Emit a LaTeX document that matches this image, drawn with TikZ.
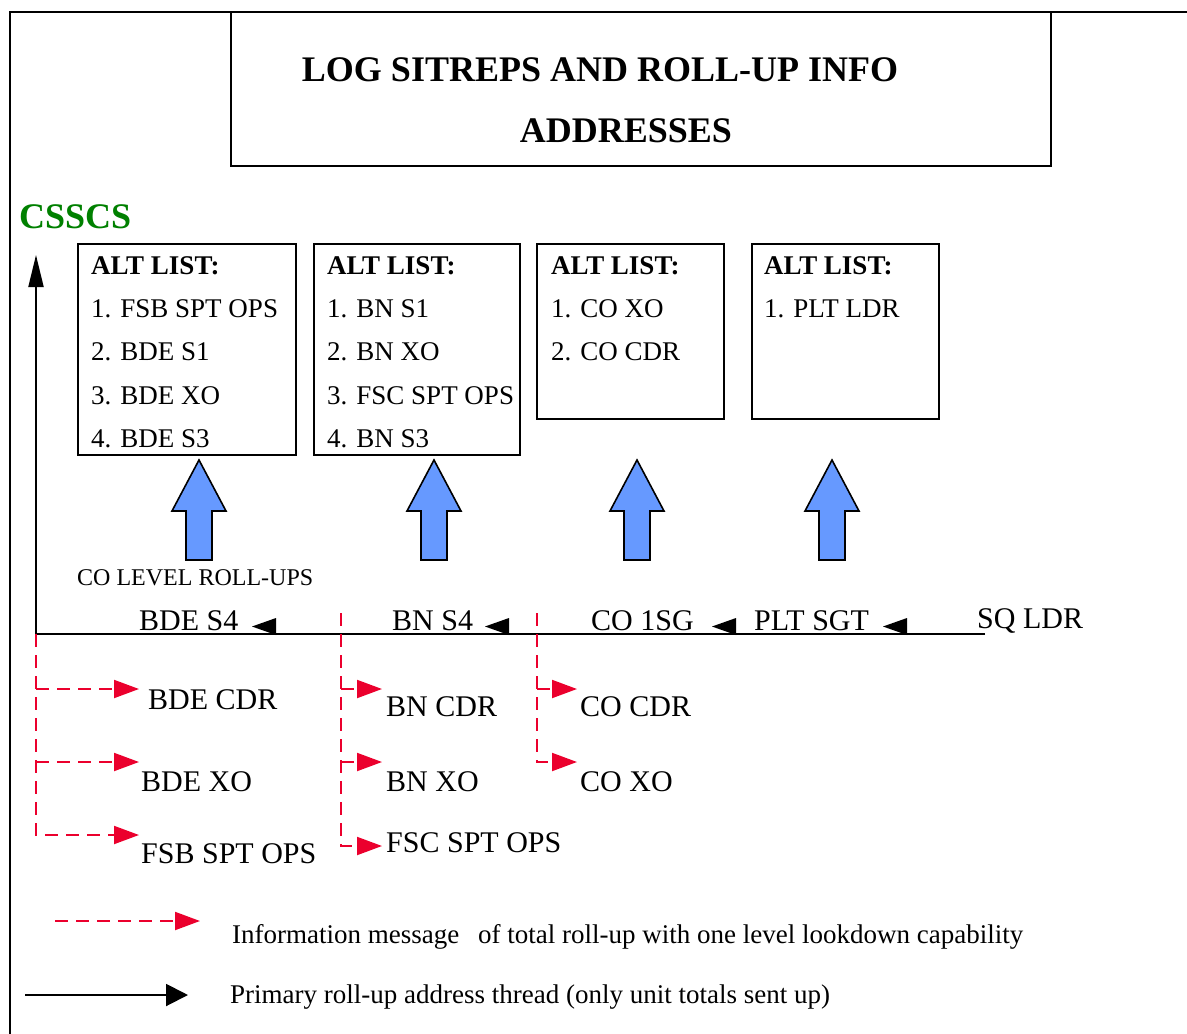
\documentclass[tikz,border=0pt]{standalone}
\usepackage{fontspec}
\setmainfont{Liberation Serif}
\usetikzlibrary{arrows.meta}
\definecolor{msgred}{RGB}{235,0,45}
\definecolor{csgreen}{RGB}{0,128,0}
\definecolor{upblue}{RGB}{102,153,255}
\begin{document}
\begin{tikzpicture}[x=1pt,y=-1pt,
  frame/.style={line width=2pt},
  listbox/.style={draw,line width=2pt,inner sep=0pt,anchor=north west},
  ttl/.style={inner sep=0pt,anchor=base,font=\fontsize{36}{40}\selectfont\bfseries},
  listtxt/.style={inner sep=0pt,anchor=base west,font=\fontsize{27}{30}\selectfont},
  listhead/.style={listtxt,font=\fontsize{27}{30}\selectfont\bfseries},
  lbl/.style={inner sep=0pt,anchor=base west,font=\fontsize{30}{34}\selectfont},
  legtxt/.style={inner sep=0pt,anchor=base west,font=\fontsize{27}{30}\selectfont},
  mainline/.style={line width=2pt},
  msg/.style={draw=msgred,line width=2pt,dash pattern=on 13pt off 8pt,
    -{Triangle[length=25pt,width=18pt,fill=msgred]}},
  upar/.style={draw=black,line width=1.6pt,fill=upblue,line join=miter},
  lefttri/.style={fill=black}
]
\useasboundingbox (0,0) rectangle (1187,1034);
% outer frame
\draw[frame] (10,1034) -- (10,12) -- (1187,12);
% title box
\draw[frame] (231,12) rectangle (1051,166);
\node[ttl] (t1) at (600,81) {LOG SITREPS AND ROLL-UP INFO};
\node[ttl] (t2) at (626,142) {ADDRESSES};
% CSSCS
\node[inner sep=0pt,anchor=base west,font=\fontsize{36}{40}\selectfont\bfseries,text=csgreen] (csscs) at (19,228) {CSSCS};
% ALT list boxes
\node[listbox,minimum width=218pt,minimum height=211pt] (alt1) at (77,243) {};
\node[listbox,minimum width=206pt,minimum height=211pt] (alt2) at (313,243) {};
\node[listbox,minimum width=187pt,minimum height=175pt] (alt3) at (536,243) {};
\node[listbox,minimum width=187pt,minimum height=175pt] (alt4) at (751,243) {};
\node[listhead] (a1h) at (91,274) {ALT LIST:};
\node[listtxt] (a11) at (91,317) {1. FSB SPT OPS};
\node[listtxt] (a12) at (91,360) {2. BDE S1};
\node[listtxt] (a13) at (91,404) {3. BDE XO};
\node[listtxt] (a14) at (91,447) {4. BDE S3};
\node[listhead] (a2h) at (327,274) {ALT LIST:};
\node[listtxt] (a21) at (327,317) {1. BN S1};
\node[listtxt] (a22) at (327,360) {2. BN XO};
\node[listtxt] (a23) at (327,404) {3. FSC SPT OPS};
\node[listtxt] (a24) at (327,447) {4. BN S3};
\node[listhead] (a3h) at (551,274) {ALT LIST:};
\node[listtxt] (a31) at (551,317) {1. CO XO};
\node[listtxt] (a32) at (551,360) {2. CO CDR};
\node[listhead] (a4h) at (764,274) {ALT LIST:};
\node[listtxt] (a41) at (764,317) {1. PLT LDR};
% blue up arrows
\foreach \cx in {199,434,637,832}{
  \draw[upar] (\cx,460) -- (\cx+27,511) -- (\cx+13,511) -- (\cx+13,560)
    -- (\cx-13,560) -- (\cx-13,511) -- (\cx-27,511) -- cycle;
}
\node[inner sep=0pt,anchor=base west,font=\fontsize{24}{28}\selectfont] (colvl) at (77,585) {CO LEVEL ROLL-UPS};
% main roll-up line
\node[lbl] (bdes4) at (139,630) {BDE S4};
\node[lbl] (bns4) at (392,630) {BN S4};
\node[lbl] (co1sg) at (591,630) {CO 1SG};
\node[lbl] (pltsgt) at (754,630) {PLT SGT};
\node[lbl] (sqldr) at (977,628) {SQ LDR};
\coordinate (lineend) at (985,634);
\coordinate (corner) at (36,634);
\coordinate (top) at (36,255);
\draw[mainline,-{Triangle[length=32pt,width=15pt]}] (lineend) -- (corner) -- (top);
\foreach \tx in {252,485,712,883}{
  \fill[lefttri] (\tx,626.5) -- (\tx+24,618) -- (\tx+24,635) -- cycle;
}
% red information threads
\node[lbl] (bdecdr) at (148,709) {BDE CDR};
\node[lbl] (bdexo) at (141,791) {BDE XO};
\node[lbl] (fsbspt) at (141,863) {FSB SPT OPS};
\node[lbl] (bncdr) at (386,716) {BN CDR};
\node[lbl] (bnxo) at (386,791) {BN XO};
\node[lbl] (fscspt) at (386,852) {FSC SPT OPS};
\node[lbl] (cocdr) at (580,716) {CO CDR};
\node[lbl] (coxo) at (580,791) {CO XO};
\coordinate (b1top) at (36,634);
\coordinate (b2top) at (341,613);
\coordinate (b3top) at (537,613);
\draw[msg] (b1top) |- (139,835);
\draw[msg] (36,689) -- (139,689);
\draw[msg] (36,762) -- (139,762);
\draw[msg] (b2top) |- (382,846);
\draw[msg] (341,689) -- (382,689);
\draw[msg] (341,762) -- (382,762);
\draw[msg] (b3top) |- (577,762);
\draw[msg] (537,689) -- (577,689);
% legend
\coordinate (lr1) at (55,921);
\coordinate (lr2) at (200,921);
\draw[msg] (lr1) -- (lr2);
\node[legtxt] (leg1a) at (232,943) {Information message};
\node[legtxt] (leg1b) at (478,943) {of total roll-up with one level lookdown capability};
\coordinate (lb1) at (25,995);
\coordinate (lb2) at (188,995);
\draw[mainline,-{Triangle[length=22pt,width=22pt]}] (lb1) -- (lb2);
\node[legtxt] (leg2) at (230,1003) {Primary roll-up address thread (only unit totals sent up)};
\end{tikzpicture}
\end{document}
